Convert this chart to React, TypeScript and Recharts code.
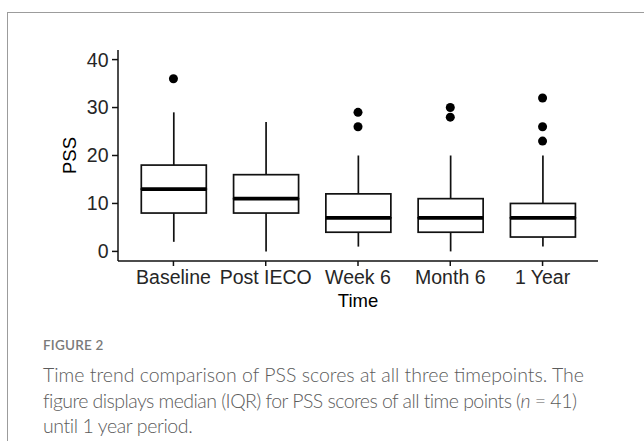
import React from "react";
import { ComposedChart, Bar, Line, XAxis, YAxis, Label } from "recharts";

// PSS box plot per time point
const categories = ["Baseline", "Post IECO", "Week 6", "Month 6", "1 Year"];
const whiskerLow = [2, 0, 1, 0, 1];
const q1 = [8, 8, 4, 4, 3];
const median = [13, 11, 7, 7, 7];
const q3 = [18, 16, 12, 11, 10];
const whiskerHigh = [29, 27, 20, 20, 20];
const outliers = [[36], [], [26, 29], [28, 30], [23, 26, 32]];
const yTicks = [0, 10, 20, 30, 40];

const captionLines = [
  "Time trend comparison of PSS scores at all three timepoints. The",
  "figure displays median (IQR) for PSS scores of all time points (",
  "until 1 year period.",
];

// stacked segments: base -> lower whisker -> lower box -> upper box -> upper whisker
const rows = categories.map((time, i) => ({
  time,
  base: whiskerLow[i],
  lowerWhisker: q1[i] - whiskerLow[i],
  lowerBox: median[i] - q1[i],
  upperBox: q3[i] - median[i],
  upperWhisker: whiskerHigh[i] - q3[i],
  o1: outliers[i][0] ?? null,
  o2: outliers[i][1] ?? null,
  o3: outliers[i][2] ?? null,
}));

const INK = "#111";
const AXIS_FONT = "'Liberation Sans', Arial, sans-serif";
const LINE_W = 1.7;

function WhiskerShape(props: any) {
  const { x, y, width, height } = props;
  const cx = x + width / 2;
  return <line x1={cx} x2={cx} y1={y} y2={y + height} stroke={INK} strokeWidth={LINE_W} />;
}

function LowerBoxShape(props: any) {
  const { x, y, width, height } = props;
  return <rect x={x} y={y} width={width} height={height} fill="#fff" stroke={INK} strokeWidth={LINE_W} />;
}

// upper half of the box also carries the median line on its bottom edge
function UpperBoxShape(props: any) {
  const { x, y, width, height } = props;
  return (
    <g>
      <rect x={x} y={y} width={width} height={height} fill="#fff" stroke={INK} strokeWidth={LINE_W} />
      <line x1={x} x2={x + width} y1={y + height} y2={y + height} stroke="#000" strokeWidth={3.8} />
    </g>
  );
}

function PssLabel(props: any) {
  const vb = props.viewBox;
  const x = vb.x + 17.5;
  const y = vb.y + vb.height / 2;
  return (
    <text x={x} y={y} transform={`rotate(-90, ${x}, ${y})`} textAnchor="middle"
      fontSize={18.5} fontFamily={AXIS_FONT} fill="#000">
      PSS
    </text>
  );
}

function TimeLabel(props: any) {
  const vb = props.viewBox;
  return (
    <text x={vb.x + vb.width / 2} y={vb.y + 46} textAnchor="middle"
      fontSize={18.5} fontFamily={AXIS_FONT} fill="#000">
      Time
    </text>
  );
}

export default function App() {
  const tickStyle = { fontSize: 19.5, fill: "#262626", fontFamily: AXIS_FONT };
  return (
    <div style={{ position: "absolute", left: 0, top: 0, width: 644, height: 441, overflow: "hidden", background: "#fff" }}>
      {/* card outline, only top and left edges are in view */}
      <div style={{ position: "absolute", left: 7, top: 12, width: 700, height: 500, borderTop: "1px solid #9c9c9c", borderLeft: "1px solid #9c9c9c" }} />

      <div style={{ position: "absolute", left: 0, top: 0 }}>
        <ComposedChart
          width={644}
          height={330}
          data={rows}
          barSize={65}
          margin={{ top: 50, right: 46, left: 58, bottom: 19 }}
        >
          <XAxis
            dataKey="time"
            type="category"
            interval={0}
            height={50}
            padding={{ left: 9.3, right: 9.3 }}
            tick={tickStyle}
            tickSize={5}
            tickMargin={4.5}
            axisLine={{ stroke: INK, strokeWidth: 1.5 }}
            tickLine={{ stroke: INK, strokeWidth: 1.5 }}
          >
            <Label content={TimeLabel} />
          </XAxis>
          <YAxis
            type="number"
            domain={[-2, 42]}
            ticks={yTicks}
            allowDataOverflow
            width={60}
            tick={tickStyle}
            tickSize={6}
            tickMargin={3.5}
            axisLine={{ stroke: INK, strokeWidth: 1.5 }}
            tickLine={{ stroke: INK, strokeWidth: 1.5 }}
          >
            <Label content={PssLabel} />
          </YAxis>

          <Bar dataKey="base" stackId="box" fill="transparent" isAnimationActive={false} />
          <Bar dataKey="lowerWhisker" stackId="box" shape={WhiskerShape} isAnimationActive={false} />
          <Bar dataKey="lowerBox" stackId="box" shape={LowerBoxShape} isAnimationActive={false} />
          <Bar dataKey="upperBox" stackId="box" shape={UpperBoxShape} isAnimationActive={false} />
          <Bar dataKey="upperWhisker" stackId="box" shape={WhiskerShape} isAnimationActive={false} />

          {["o1", "o2", "o3"].map((k) => (
            <Line
              key={k}
              dataKey={k}
              stroke="none"
              dot={{ r: 4.5, fill: "#000", stroke: "none" }}
              activeDot={false}
              isAnimationActive={false}
            />
          ))}
        </ComposedChart>
      </div>

      {/* figure caption */}
      <div style={{ position: "absolute", left: 43, top: 337, fontFamily: "Lato, 'Open Sans', sans-serif", fontSize: 13.5, fontWeight: 600, color: "#7a7a7a", letterSpacing: 0.2 }}>
        FIGURE 2
      </div>
      <div style={{ position: "absolute", left: 43, top: 362, fontFamily: "Lato, 'Open Sans', sans-serif", fontSize: 19.5, lineHeight: "25.5px", color: "#5c5c5c", whiteSpace: "nowrap", fontWeight: 300 }}>
        <div>{captionLines[0]}</div>
        <div style={{ letterSpacing: -0.55 }}>
          {captionLines[1]}
          <i>n</i> = 41)
        </div>
        <div style={{ letterSpacing: -0.4 }}>{captionLines[2]}</div>
      </div>
    </div>
  );
}
